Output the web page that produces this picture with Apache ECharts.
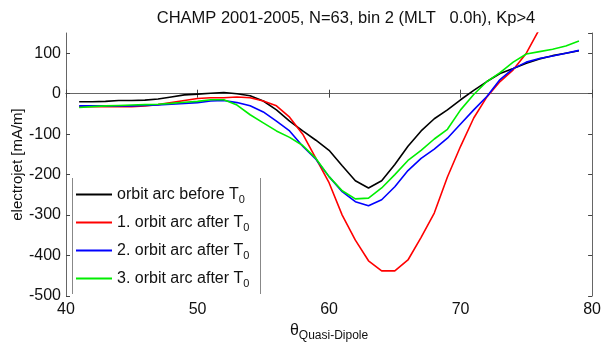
<!DOCTYPE html>
<html><head><meta charset="utf-8">
<script src="https://cdn.jsdelivr.net/npm/echarts@6/dist/echarts.min.js"></script>
<style>html,body{margin:0;padding:0;background:#fff}#c{width:604px;height:347px}</style>
</head><body><div id="c"></div>
<script>
const theta = [41,42,43,44,45,46,47,48,49,50,51,52,53,54,55,56,57,58,59,60,61,62,63,64,65,66,67,68,69,70,71,72,73,74,75,76,77,78,79];
const beforeT0 = [-20,-20,-19,-17,-17,-16,-13,-8,-3,-1,1,3,0,-5,-18,-40,-68,-92,-115,-140,-178,-215,-233,-215,-175,-130,-92,-62,-40,-15,8,30,50,62,75,86,94,100,106];
const after1 = [-32,-32,-32,-32,-32,-30,-27,-22,-17,-12,-10,-10,-8,-10,-18,-30,-58,-100,-160,-220,-300,-362,-413,-438,-438,-411,-355,-295,-206,-130,-60,-8,30,59,100,160,null,null,null];
const after2 = [-30,-30,-30,-30,-30,-29,-28,-26,-24,-22,-18,-17,-22,-30,-45,-68,-92,-130,-162,-205,-242,-267,-277,-262,-230,-190,-160,-137,-110,-75,-40,-7,35,62,78,87,93,100,107];
const after3 = [-34,-32,-30,-29,-28,-27,-26,-24,-21,-19,-15,-15,-28,-52,-72,-92,-108,-128,-160,-205,-240,-260,-258,-233,-200,-165,-140,-112,-88,-40,-2,30,52,78,98,104,110,118,130];
const seriesNames = ['orbit arc before T0','1. orbit arc after T0','2. orbit arc after T0','3. orbit arc after T0'];
const seriesColors = ['#000000','#ff0000','#0000ff','#00ee00'];
const xTicks = [40,50,60,70,80];
const yTicks = [-500,-400,-300,-200,-100,0,100];

const allData = [beforeT0, after1, after2, after3];
const font = 'Liberation Sans, Arial, Helvetica, sans-serif';
const axisCommon = {
  axisLine:{show:true,lineStyle:{color:'#666',width:1}},
  axisTick:{show:true,inside:true,length:4,lineStyle:{color:'#444'}},
  splitLine:{show:false}
};
const chart = echarts.init(document.getElementById('c'), null, {renderer:'canvas'});
chart.setOption({
  animation:false,
  backgroundColor:'#fff',
  title:{text:'CHAMP 2001-2005, N=63, bin 2 (MLT   0.0h), Kp>4',left:341,textAlign:'center',top:5,
    textStyle:{fontFamily:font,fontSize:16.5,fontWeight:'normal',color:'#111'}},
  grid:{left:66,right:8,top:33,bottom:49},
  xAxis:[
    Object.assign({type:'value',min:xTicks[0],max:xTicks[xTicks.length-1],interval:10,position:'bottom',
      name:'θ{sub|Quasi-Dipole}',nameLocation:'middle',nameGap:26,nameMoveOverlap:false,
      nameTextStyle:{fontFamily:font,fontSize:16,color:'#111',lineHeight:18,
        rich:{sub:{fontFamily:font,fontSize:12,color:'#111',lineHeight:8,padding:[10,0,0,0]}}},
      axisLabel:{fontFamily:font,fontSize:16,color:'#111',margin:6}},axisCommon),
    Object.assign({type:'value',min:40,max:80,interval:10,position:'top',axisLabel:{show:false}},axisCommon)
  ],
  yAxis:[
    Object.assign({type:'value',min:yTicks[0],max:150,interval:100,position:'left',
      name:'electrojet [mA/m]',nameLocation:'middle',nameGap:41,nameMoveOverlap:false,
      nameTextStyle:{fontFamily:font,fontSize:15,color:'#111'},
      axisLabel:{fontFamily:font,fontSize:16,color:'#111',margin:5,showMaxLabel:false}},axisCommon),
    Object.assign({type:'value',min:-500,max:150,interval:100,position:'right',axisLabel:{show:false}},axisCommon)
  ],
  legend:{
    orient:'vertical',left:72,top:179,itemWidth:36,itemHeight:2,itemGap:7,icon:'rect',
    backgroundColor:'#fff',padding:[5,6,5,4],
    data:seriesNames,
    formatter:n=>n.replace('T0','T{sub|0}'),
    textStyle:{fontFamily:font,fontSize:16,color:'#111',lineHeight:18,
      rich:{sub:{fontFamily:font,fontSize:11,color:'#111',lineHeight:8,padding:[10,0,0,0]}}}
  },
  graphic:[
    {type:'line',shape:{x1:72.5,y1:178,x2:72.5,y2:294},style:{stroke:'#888',lineWidth:1},z:100},
    {type:'line',shape:{x1:260.5,y1:178,x2:260.5,y2:294},style:{stroke:'#888',lineWidth:1},z:100}
  ],
  series: allData.map((d,i)=>({
    name:seriesNames[i],type:'line',symbol:'none',clip:true,
    lineStyle:{color:seriesColors[i],width:1.6},itemStyle:{color:seriesColors[i]},
    data:theta.map((t,k)=>[t,d[k]])
  }))
});
</script></body></html>
